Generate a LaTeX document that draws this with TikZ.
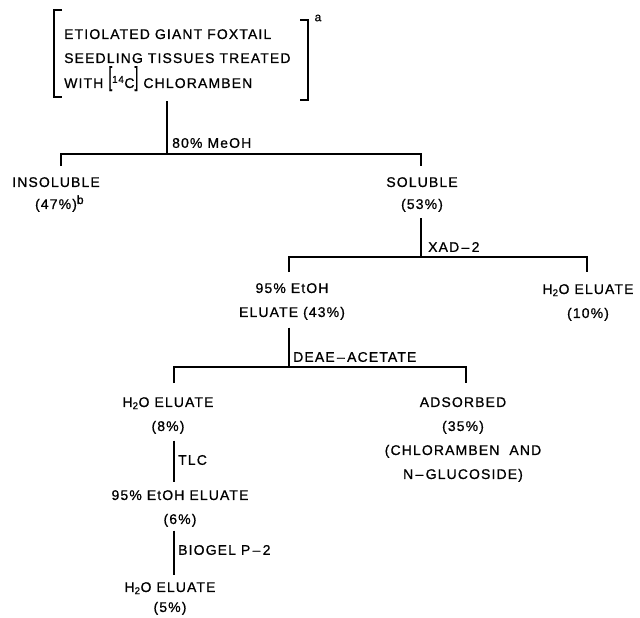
\documentclass[tikz,border=0pt]{standalone}
\usepackage{fontspec}
\setmainfont{Liberation Sans}[LetterSpace=8,FakeBold=0.8]
\usetikzlibrary{calc}
\newcommand{\bigbrk}[1]{\raisebox{2.5pt}{\scalebox{1}[1.9]{#1}}}
\begin{document}
\begin{tikzpicture}[x=1pt,y=-1pt,
  txt/.style={font=\fontsize{14}{24}\selectfont, inner sep=0pt, align=center, anchor=north},
  lab/.style={font=\fontsize{14}{24}\selectfont, inner sep=0pt, anchor=west},
  supnote/.style={font=\fontsize{12}{12}\selectfont, inner sep=0pt},
  ln/.style={line width=1.3pt}]
\useasboundingbox (0,0) rectangle (640,618);

% source block
\node[txt, align=left, anchor=north west] (src) at (64,29)
  {ETIOLATED GIANT FOXTAIL\\SEEDLING TISSUES TREATED\\[1pt]WITH \bigbrk{[}\textsuperscript{14}C\bigbrk{]} CHLORAMBEN};
\draw[ln] (62,10) -- (54,10) -- (54,97) -- (62,97);
\draw[ln] (300,20) -- (308,20) -- (308,100) -- (300,100);
\node[supnote] (supa) at (318,18) {a};

% nodes
\node[txt] (ins) at (56,177) {INSOLUBLE\\[-2pt](47\%)\rlap{\raisebox{5pt}{\fontsize{12}{12}\selectfont b}}};
\node[txt] (sol) at (422,177) {SOLUBLE\\[-2pt](53\%)};
\node[txt] (eth) at (292,283) {95\% EtOH\\ELUATE (43\%)};
\node[txt] (wat1) at (588,284) {H\textsubscript{2}O ELUATE\\(10\%)};
\node[txt] (wat2) at (168,397) {H\textsubscript{2}O ELUATE\\(8\%)};
\node[txt] (ads) at (463,397) {ADSORBED\\(35\%)\\(CHLORAMBEN\ \ AND\\N\,–\,GLUCOSIDE)};
\node[txt] (eth2) at (180,490) {95\% EtOH ELUATE\\(6\%)};
\node[txt] (wat3) at (170,582) {H\textsubscript{2}O ELUATE\\[-4pt](5\%)};

% labels
\node[lab] (l0) at (172,143) {80\% MeOH};
\node[lab] (l1) at (428,247) {XAD\,–\,2};
\node[lab] (l2) at (293,357) {DEAE\,–\,ACETATE};
\node[lab] (l3) at (178,460) {TLC};
\node[lab] (l4) at (178,550) {BIOGEL P\,–\,2};

% junctions
\coordinate (j0) at (167,154);
\coordinate (j1) at (421,257);
\coordinate (j2) at (289,367);

% connectors
\draw[ln] ($(src.south -| j0)+(0,10)$) -- (j0);
\draw[ln] ($(ins.north)+(5,-11)$) |- (j0) -| ($(sol.north)+(-1,-11)$);
\draw[ln] ($(sol.south -| j1)+(0,6)$) -- (j1);
\draw[ln] ($(eth.north)+(-3,-11)$) |- (j1) -| ($(wat1.north)+(-1,-12)$);
\draw[ln] ($(eth.south -| j2)+(0,7.6)$) -- (j2);
\draw[ln] ($(wat2.north)+(6,-14)$) |- (j2) -| ($(ads.north)+(3,-14)$);
\draw[ln] ($(wat2.south)+(6,6.6)$) -- ($(eth2.north)+(-6,-8)$);
\draw[ln] ($(eth2.south)+(-6,3.6)$) -- ($(wat3.north)+(4,-7)$);
\end{tikzpicture}
\end{document}
